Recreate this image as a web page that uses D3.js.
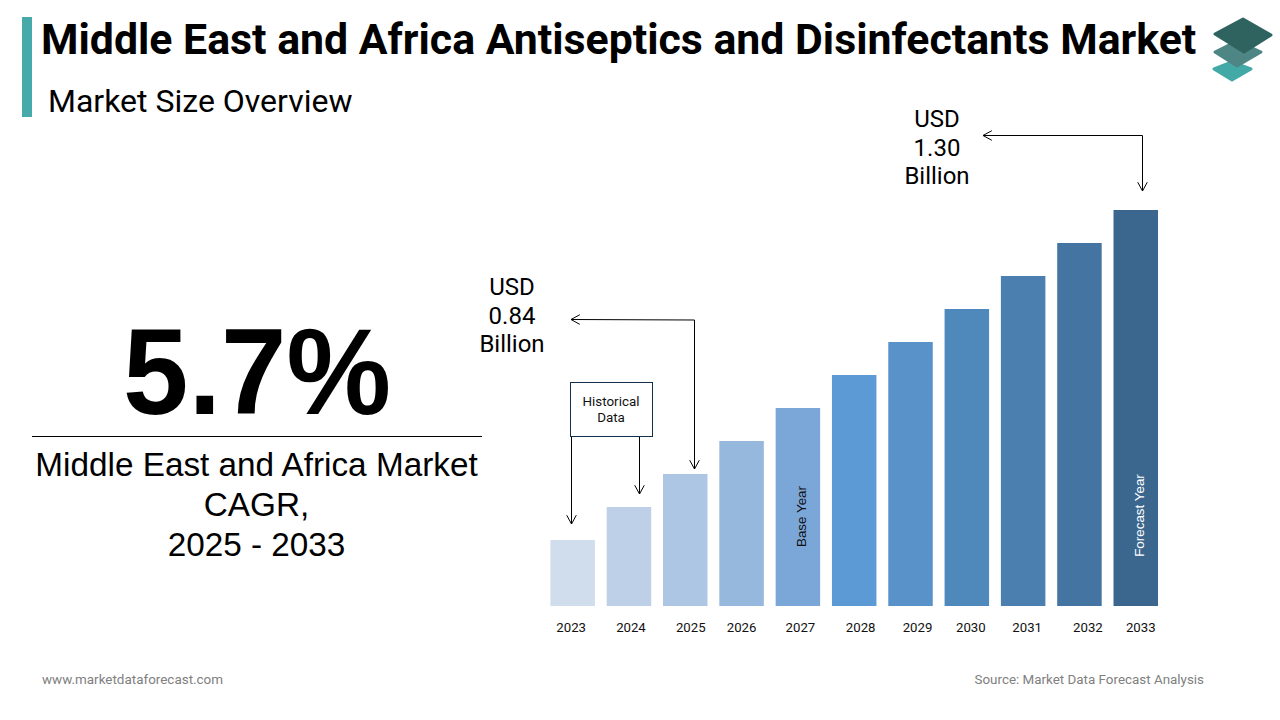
<!DOCTYPE html>
<html>
<head>
<meta charset="utf-8">
<script src="https://cdn.jsdelivr.net/npm/d3@7"></script>
<style>
  html, body { margin: 0; padding: 0; background: #fff; }
  svg { display: block; }
  text { font-family: Roboto, sans-serif; }
</style>
</head>
<body>
<div id="chart"></div>
<script>
// bars have no value axis in the source, heights are in steps read off the picture
var years = ["2023", "2024", "2025", "2026", "2027", "2028", "2029", "2030", "2031", "2032", "2033"];
var barHeights = [1, 1.5, 2, 2.5, 3, 3.5, 4, 4.5, 5, 5.5, 6];
var barColors = ["#d0dded", "#bdd0e8", "#adc6e4", "#97b8dd", "#7ba7d8", "#5c9ad5",
                 "#5892c9", "#4f89bc", "#4a7fb0", "#4474a1", "#3b678f"];
var centerLines = ["Middle East and Africa Market", "CAGR,", "2025 - 2033"];
var startLabel = ["USD", "0.84", "Billion"];
var endLabel = ["USD", "1.30", "Billion"];

var svg = d3.select("#chart").append("svg")
    .attr("width", 1280)
    .attr("height", 720);

var x = d3.scaleBand().domain(years).range([550.4, 1158]).paddingInner(0.21);
var y = d3.scaleLinear().domain([0, 6]).range([606, 210]);

// header
svg.append("rect").attr("x", 22).attr("y", 17).attr("width", 10).attr("height", 100).attr("fill", "#45aaa9");
svg.append("text").attr("x", 41).attr("y", 54)
    .attr("font-size", 42.8).attr("font-weight", 700).attr("fill", "#000")
    .text("Middle East and Africa Antiseptics and Disinfectants Market");
svg.append("text").attr("x", 48).attr("y", 112)
    .attr("font-size", 32).attr("fill", "#000")
    .text("Market Size Overview");

// logo
var logo = svg.append("g").attr("stroke-linejoin", "round").attr("stroke-width", 3);
logo.append("polygon").attr("points", "1232,62 1251,69 1232,80 1214,69").attr("fill", "#43a9a6").attr("stroke", "#43a9a6");
logo.append("polygon").attr("points", "1237,41 1261,52 1237,66 1215,52").attr("fill", "#4e8685").attr("stroke", "#4e8685");
logo.append("polygon").attr("points", "1243,19 1271,35 1244,52 1215,34").attr("fill", "#2e635f").attr("stroke", "#2e635f");

// left panel, the source figure is squeezed a little horizontally
svg.append("text")
    .attr("transform", "translate(257,414) scale(0.964,1)")
    .attr("text-anchor", "middle").attr("font-size", 122).attr("font-weight", 700)
    .style("font-family", "'Liberation Sans'")
    .text("5.7%");
svg.append("line").attr("x1", 32).attr("x2", 482).attr("y1", 436.5).attr("y2", 436.5)
    .attr("stroke", "#000").attr("stroke-width", 1);
svg.selectAll(".center-line").data(centerLines).enter().append("text")
    .attr("class", "center-line")
    .attr("x", 256.5)
    .attr("y", function (d, i) { return 476 + i * 40; })
    .attr("text-anchor", "middle").attr("font-size", 33.3)
    .style("font-family", "'Liberation Sans'")
    .text(function (d) { return d; });

// bars
svg.selectAll(".bar").data(years).enter().append("rect")
    .attr("class", "bar")
    .attr("x", function (d) { return x(d); })
    .attr("y", function (d, i) { return y(barHeights[i]); })
    .attr("width", x.bandwidth())
    .attr("height", function (d, i) { return y(0) - y(barHeights[i]); })
    .attr("fill", function (d, i) { return barColors[i]; });

// the source tick labels drift off the bar centres a little
var tickNudge = [-1.5, 2, 5.5, 0, 2.5, 6.5, 7, 4, 4, 8.5, 5];
var axis = svg.append("g")
    .attr("transform", "translate(0,606)")
    .call(d3.axisBottom(x).tickSize(0).tickPadding(17));
axis.select(".domain").remove();
axis.selectAll("text")
    .attr("font-size", 13.2).style("font-family", "Roboto").attr("fill", "#111")
    .attr("dx", function (d, i) { return tickNudge[i]; });

function rotated(year, label, color, cy) {
    var cx = x(year) + x.bandwidth() / 2 + 3.5;
    svg.append("text")
        .attr("transform", "translate(" + cx + "," + cy + ") rotate(-90)")
        .attr("text-anchor", "middle").attr("dominant-baseline", "central")
        .attr("font-size", 13.4).attr("fill", color)
        .style("font-family", "'Liberation Sans'")
        .text(label);
}
rotated("2027", "Base Year", "#111", 516.5);
rotated("2033", "Forecast Year", "#fff", 515.5);

// arrows
function arrow(points) {
    var last = points[points.length - 1], prev = points[points.length - 2];
    var a = Math.atan2(last[1] - prev[1], last[0] - prev[0]);
    var len = 10, spread = 0.5;
    svg.append("path")
        .attr("d", d3.line()(points))
        .attr("fill", "none").attr("stroke", "#000").attr("stroke-width", 1);
    svg.append("path")
        .attr("d", d3.line()([
            [last[0] - len * Math.cos(a - spread), last[1] - len * Math.sin(a - spread)],
            last,
            [last[0] - len * Math.cos(a + spread), last[1] - len * Math.sin(a + spread)]
        ]))
        .attr("fill", "none").attr("stroke", "#000").attr("stroke-width", 1);
}
arrow([[694.5, 320], [694.5, 469]]);
arrow([[694.5, 320], [571, 319.5]]);
arrow([[1142.5, 135.5], [1142.5, 191]]);
arrow([[1142.5, 135.5], [983, 135.5]]);
arrow([[571.5, 436], [571.5, 524]]);
arrow([[639.5, 436], [639.5, 494]]);

// historical box
svg.append("rect").attr("x", 570.5).attr("y", 382.5).attr("width", 82).attr("height", 54)
    .attr("fill", "#fff").attr("stroke", "#12304a").attr("stroke-width", 1);
svg.selectAll(".hist").data(["Historical", "Data"]).enter().append("text")
    .attr("class", "hist")
    .attr("x", 611)
    .attr("y", function (d, i) { return 406 + i * 16; })
    .attr("text-anchor", "middle").attr("font-size", 13.4).attr("fill", "#111")
    .text(function (d) { return d; });

// value callouts
function callout(lines, cx, top) {
    svg.selectAll(null).data(lines).enter().append("text")
        .attr("x", cx)
        .attr("y", function (d, i) { return top + i * 28.5; })
        .attr("text-anchor", "middle").attr("font-size", 24).attr("fill", "#000")
        .text(function (d) { return d; });
}
callout(startLabel, 512, 295);
callout(endLabel, 937, 127);

// footer
svg.append("text").attr("x", 42).attr("y", 684)
    .attr("font-size", 13.45).attr("fill", "#808080").text("www.marketdataforecast.com");
svg.append("text").attr("x", 1204).attr("y", 684)
    .attr("text-anchor", "end").attr("font-size", 13.4).attr("fill", "#808080")
    .text("Source: Market Data Forecast Analysis");
</script>
</body>
</html>
